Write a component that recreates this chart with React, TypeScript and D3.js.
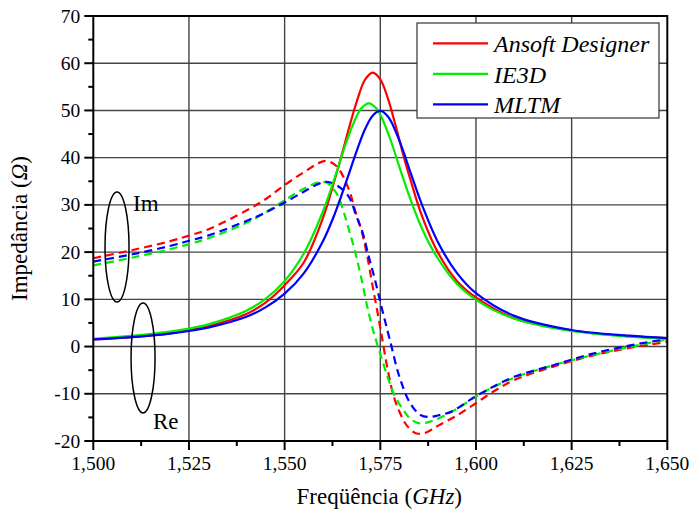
import React from "react";
import * as d3 from "d3";

// ---------- Data ----------
const seriesNames = ["Ansoft Designer", "IE3D", "MLTM"];
const seriesColors = ["#ff0000", "#00ee00", "#0000ff"];

// Real part (solid)
const reRedF = [1.5, 1.51, 1.52, 1.525, 1.53, 1.54, 1.545, 1.55, 1.555, 1.56, 1.5635, 1.565, 1.567, 1.569, 1.571, 1.573, 1.575, 1.577, 1.579, 1.581, 1.583, 1.586, 1.59, 1.595, 1.6, 1.61, 1.625, 1.64, 1.65];
const reRedV = [1.5, 2.0, 2.8, 3.5, 4.3, 6.9, 9.3, 13.0, 17.8, 27.2, 36.5, 40.8, 46.8, 52.3, 56.5, 58.0, 56.6, 52.5, 46.8, 40.6, 35.0, 27.4, 20.0, 13.9, 10.4, 6.0, 3.4, 2.2, 1.8];

const reGreenF = [1.5, 1.51, 1.52, 1.525, 1.53, 1.54, 1.545, 1.55, 1.555, 1.56, 1.563, 1.566, 1.568, 1.57, 1.572, 1.574, 1.576, 1.578, 1.58, 1.583, 1.586, 1.59, 1.595, 1.6, 1.61, 1.625, 1.64, 1.65];
const reGreenV = [1.65, 2.25, 3.15, 3.8, 4.7, 7.6, 10.1, 13.9, 19.7, 28.6, 35.5, 43.0, 47.3, 50.4, 51.5, 50.4, 47.3, 43.0, 38.0, 30.9, 24.8, 18.7, 13.3, 9.9, 5.9, 3.3, 2.1, 1.7];

const reBlueF = [1.5, 1.51, 1.52, 1.525, 1.53, 1.54, 1.545, 1.55, 1.555, 1.56, 1.563, 1.566, 1.569, 1.571, 1.573, 1.575, 1.577, 1.579, 1.581, 1.583, 1.586, 1.59, 1.595, 1.6, 1.61, 1.625, 1.64, 1.65];
const reBlueV = [1.5, 2.0, 2.75, 3.3, 4.0, 6.3, 8.3, 11.2, 15.5, 22.3, 27.9, 34.7, 41.8, 46.0, 48.9, 49.9, 48.7, 45.6, 41.4, 36.6, 29.8, 22.2, 15.6, 11.3, 6.5, 3.5, 2.3, 1.8];

// Imaginary part (dashed)
const imRedF = [1.5, 1.51, 1.52, 1.525, 1.53, 1.54, 1.545, 1.55, 1.555, 1.559, 1.561, 1.563, 1.5645, 1.567, 1.5685, 1.57, 1.5715, 1.573, 1.575, 1.577, 1.5785, 1.58, 1.582, 1.5845, 1.587, 1.59, 1.595, 1.6, 1.605, 1.61, 1.62, 1.63, 1.64, 1.65];
const imRedV = [18.7, 20.4, 22.3, 23.5, 24.8, 28.8, 31.2, 34.2, 36.9, 38.9, 39.3, 38.6, 37.2, 32.8, 28.6, 24.8, 19.5, 12.8, 4.0, -5.2, -10.5, -13.8, -16.8, -18.4, -18.2, -16.8, -14.6, -12.0, -9.3, -7.1, -4.3, -2.0, -0.3, 1.0];

const imGreenF = [1.5, 1.51, 1.52, 1.525, 1.53, 1.54, 1.545, 1.55, 1.555, 1.559, 1.561, 1.5625, 1.564, 1.5655, 1.567, 1.5685, 1.57, 1.5715, 1.573, 1.575, 1.5775, 1.579, 1.581, 1.583, 1.5855, 1.588, 1.591, 1.595, 1.6, 1.605, 1.61, 1.62, 1.63, 1.64, 1.65];
const imGreenV = [17.2, 18.8, 20.6, 21.7, 22.9, 26.2, 28.4, 31.0, 33.4, 34.8, 34.7, 33.6, 31.8, 28.3, 24.2, 19.8, 14.6, 8.8, 3.8, -1.6, -7.8, -10.8, -13.4, -15.4, -16.3, -15.9, -14.9, -13.2, -10.6, -8.4, -6.6, -4.0, -1.9, -0.1, 1.5];

const imBlueF = [1.5, 1.51, 1.52, 1.525, 1.53, 1.54, 1.545, 1.55, 1.555, 1.559, 1.561, 1.563, 1.5655, 1.567, 1.5688, 1.5705, 1.572, 1.5735, 1.5755, 1.5775, 1.58, 1.5828, 1.5855, 1.5875, 1.59, 1.5935, 1.6, 1.605, 1.61, 1.62, 1.63, 1.64, 1.65];
const imBlueV = [18.0, 19.5, 21.3, 22.4, 23.5, 26.6, 28.4, 30.5, 32.8, 34.5, 34.9, 34.4, 33.0, 31.4, 27.5, 23.8, 19.0, 14.5, 7.8, 1.4, -6.4, -12.0, -14.5, -14.9, -14.6, -13.8, -10.5, -8.3, -6.4, -4.0, -1.6, 0.2, 1.6];

const xTicks = [1.5, 1.525, 1.55, 1.575, 1.6, 1.625, 1.65];
const xTickLabels = ["1,500", "1,525", "1,550", "1,575", "1,600", "1,625", "1,650"];
const yTicks = [-20, -10, 0, 10, 20, 30, 40, 50, 60, 70];

// ---------- Layout ----------
const W = 692, H = 519;
const L = 93.3, R = 667.3, T = 16, B = 441;

export default function App() {
  const x = d3.scaleLinear().domain([1.5, 1.65]).range([L, R]);
  const y = d3.scaleLinear().domain([-20, 70]).range([B, T]);
  const line = d3
    .line<[number, number]>()
    .x((d) => x(d[0]))
    .y((d) => y(d[1]))
    .curve(d3.curveCatmullRom.alpha(0.5));

  const zip = (f: number[], v: number[]) => f.map((ff, i) => [ff, v[i]] as [number, number]);
  const reSeries = [zip(reRedF, reRedV), zip(reGreenF, reGreenV), zip(reBlueF, reBlueV)];
  const imSeries = [zip(imRedF, imRedV), zip(imGreenF, imGreenV), zip(imBlueF, imBlueV)];

  const minorX = d3.range(0, 13).map((i) => 1.5 + i * 0.0125).filter((_, i) => i % 2 === 1);
  const minorY = d3.range(0, 19).map((i) => -20 + i * 5).filter((_, i) => i % 2 === 1);

  const font = "'Liberation Serif', 'Times New Roman', serif";

  return (
    <svg width={W} height={H} style={{ position: "absolute", left: 0, top: 0, background: "#fff" }} fontFamily={font}>
      <defs>
        <clipPath id="plot">
          <rect x={L} y={T} width={R - L} height={B - T} />
        </clipPath>
      </defs>
      {/* grid */}
      {xTicks.slice(1, -1).map((t) => (
        <line key={"gx" + t} x1={x(t)} x2={x(t)} y1={T} y2={B} stroke="#444" strokeWidth={1.4} />
      ))}
      {yTicks.slice(1, -1).map((t) => (
        <line key={"gy" + t} x1={L} x2={R} y1={y(t)} y2={y(t)} stroke="#444" strokeWidth={1.4} />
      ))}

      {/* curves */}
      <g clipPath="url(#plot)" fill="none" strokeWidth={2.2}>
        {imSeries.map((s, i) => (
          <path key={"im" + i} d={line(s) || ""} stroke={seriesColors[i]} strokeDasharray="8,5" />
        ))}
        {reSeries.map((s, i) => (
          <path key={"re" + i} d={line(s) || ""} stroke={seriesColors[i]} />
        ))}
      </g>

      {/* frame */}
      <rect x={L} y={T} width={R - L} height={B - T} fill="none" stroke="#000" strokeWidth={2} />

      {/* ticks */}
      {xTicks.map((t) => (
        <line key={"tx" + t} x1={x(t)} x2={x(t)} y1={B} y2={B + 9} stroke="#000" strokeWidth={2} />
      ))}
      {minorX.map((t) => (
        <line key={"mx" + t} x1={x(t)} x2={x(t)} y1={B} y2={B + 5} stroke="#000" strokeWidth={2} />
      ))}
      {yTicks.map((t) => (
        <line key={"ty" + t} x1={L - 9} x2={L} y1={y(t)} y2={y(t)} stroke="#000" strokeWidth={2} />
      ))}
      {minorY.map((t) => (
        <line key={"my" + t} x1={L - 5} x2={L} y1={y(t)} y2={y(t)} stroke="#000" strokeWidth={2} />
      ))}

      {/* tick labels */}
      {xTicks.map((t, i) => (
        <text key={"lx" + t} x={x(t)} y={B + 29} textAnchor="middle" fontSize={19.5}>
          {xTickLabels[i]}
        </text>
      ))}
      {yTicks.map((t) => (
        <text key={"ly" + t} x={L - 13} y={y(t) + 6.5} textAnchor="end" fontSize={19.5}>
          {String(t)}
        </text>
      ))}

      {/* axis titles */}
      <text x={(L + R) / 2 - 1} y={504} textAnchor="middle" fontSize={23}>
        Freqüência (<tspan fontStyle="italic">GHz</tspan>)
      </text>
      <text transform={`translate(27, ${(T + B) / 2}) rotate(-90)`} textAnchor="middle" fontSize={23}>
        Impedância (<tspan fontStyle="italic">Ω</tspan>)
      </text>

      {/* annotations */}
      <ellipse cx={x(1.5062)} cy={y(21.1)} rx={12} ry={55} fill="none" stroke="#000" strokeWidth={1.5} />
      <text x={x(1.5104)} y={y(28.8)} fontSize={23}>Im</text>
      <ellipse cx={x(1.513)} cy={y(-2.4)} rx={12} ry={55} fill="none" stroke="#000" strokeWidth={1.5} />
      <text x={x(1.5156)} y={y(-17.4)} fontSize={23}>Re</text>

      {/* legend */}
      <g>
        <rect x={417} y={23} width={242} height={95} fill="#fff" stroke="#333" strokeWidth={1.2} />
        {seriesNames.map((n, i) => (
          <g key={n} transform={`translate(0, ${43.3 + i * 30.5})`}>
            <line x1={433} x2={488} y1={0} y2={0} stroke={seriesColors[i]} strokeWidth={2.2} />
            <text x={494} y={9} fontSize={24} fontStyle="italic">{n}</text>
          </g>
        ))}
      </g>
    </svg>
  );
}
